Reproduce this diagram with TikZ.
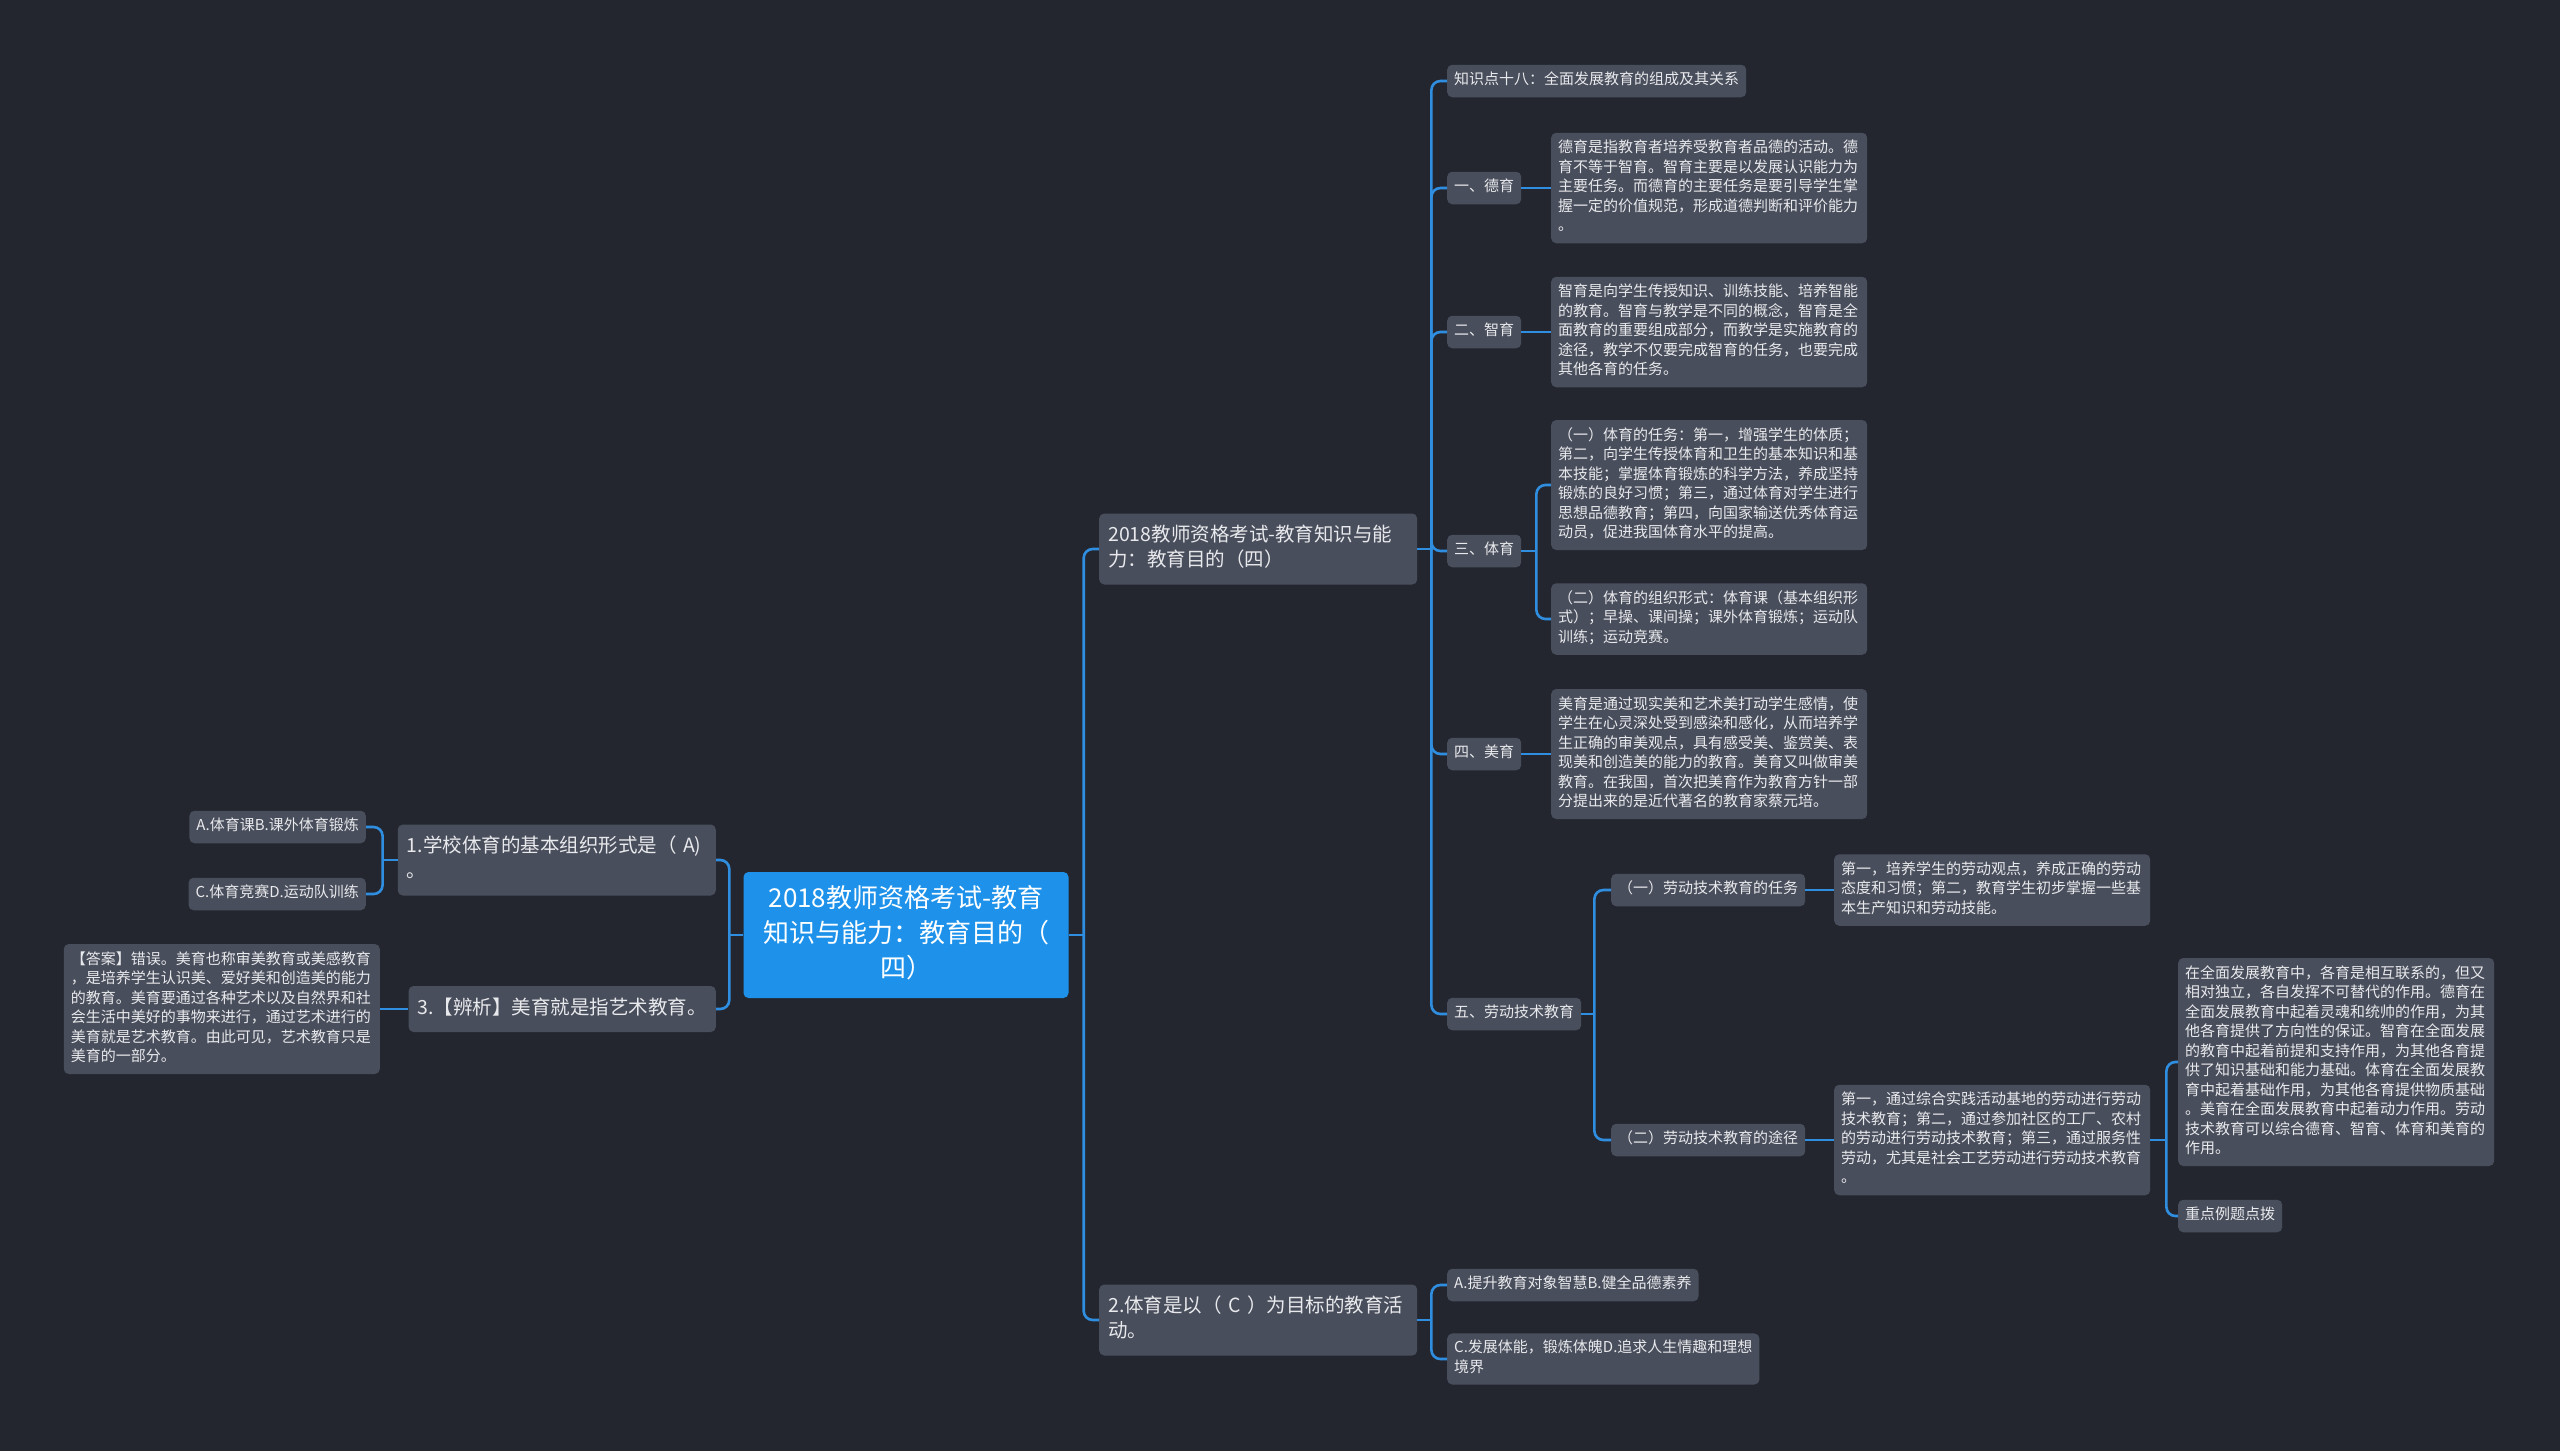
\documentclass[tikz,border=0pt]{standalone}
\usepackage{fontspec}
\newfontfamily\cjkfont{Noto Sans CJK SC}
\definecolor{bgcol}{HTML}{23262F}
\definecolor{boxcol}{HTML}{494E5C}
\definecolor{rootcol}{HTML}{1E92EA}
\definecolor{linkcol}{HTML}{2F8EE0}
\definecolor{txtcol}{HTML}{E8E9EC}

\begin{document}
\begin{tikzpicture}[x=1pt,y=-1pt,
  leaf/.style={fill=boxcol,text=txtcol,rounded corners=5pt,inner xsep=7pt,inner ysep=6.5pt,align=left,
    font=\cjkfont\fontsize{15}{19.5}\selectfont,execute at begin node=\strut,execute at end node=\strut},
  note/.style={leaf,text width=302pt},
  topic/.style={leaf,inner xsep=9pt,inner ysep=10.5pt,font=\cjkfont\fontsize{19.5}{25}\selectfont},
  hub/.style={leaf,fill=rootcol,text=white,align=center,text width=305pt,inner xsep=10pt,inner ysep=10.5pt,
    font=\cjkfont\fontsize{26}{35}\selectfont},
  link/.style={draw=linkcol,line width=2.6pt,rounded corners=9pt}]

\fill[bgcol] (0,0) rectangle (2560,1451);

\node[hub] (root) at (906,935) {2018教师资格考试-教育\\知识与能力：教育目的（\\四）};

% right side
\node[topic,text width=300pt,anchor=west] (b1) at (1099,549) {2018教师资格考试-教育知识与能\\力：教育目的（四）};
\node[topic,text width=300pt,anchor=west] (b2) at (1099,1320) {2.体育是以（ C ）为目标的教育活\\动。};

\node[leaf,anchor=west] (k) at (1447,81) {知识点十八：全面发展教育的组成及其关系};
\node[leaf,anchor=west] (de) at (1447,188) {一、德育};
\node[leaf,anchor=west] (zhi) at (1447,332) {二、智育};
\node[leaf,anchor=west] (ti) at (1447,551) {三、体育};
\node[leaf,anchor=west] (mei) at (1447,754) {四、美育};
\node[leaf,anchor=west] (lao) at (1447,1014) {五、劳动技术教育};

\node[note,anchor=west] (det) at (1551,188) {德育是指教育者培养受教育者品德的活动。德\\育不等于智育。智育主要是以发展认识能力为\\主要任务。而德育的主要任务是要引导学生掌\\握一定的价值规范，形成道德判断和评价能力\\。};
\node[note,anchor=west] (zhit) at (1551,332) {智育是向学生传授知识、训练技能、培养智能\\的教育。智育与教学是不同的概念，智育是全\\面教育的重要组成部分，而教学是实施教育的\\途径，教学不仅要完成智育的任务，也要完成\\其他各育的任务。};
\node[note,anchor=west] (tit1) at (1551,485) {（一）体育的任务：第一，增强学生的体质；\\第二，向学生传授体育和卫生的基本知识和基\\本技能；掌握体育锻炼的科学方法，养成坚持\\锻炼的良好习惯；第三，通过体育对学生进行\\思想品德教育；第四，向国家输送优秀体育运\\动员，促进我国体育水平的提高。};
\node[note,anchor=west] (tit2) at (1551,619) {（二）体育的组织形式：体育课（基本组织形\\式）；早操、课间操；课外体育锻炼；运动队\\训练；运动竞赛。};
\node[note,anchor=west] (meit) at (1551,754) {美育是通过现实美和艺术美打动学生感情，使\\学生在心灵深处受到感染和感化，从而培养学\\生正确的审美观点，具有感受美、鉴赏美、表\\现美和创造美的能力的教育。美育又叫做审美\\教育。在我国，首次把美育作为教育方针一部\\分提出来的是近代著名的教育家蔡元培。};

\node[leaf,anchor=west] (lao1) at (1611,890) {（一）劳动技术教育的任务};
\node[leaf,anchor=west] (lao2) at (1611,1140) {（二）劳动技术教育的途径};
\node[note,anchor=west] (lao1t) at (1834,890) {第一，培养学生的劳动观点，养成正确的劳动\\态度和习惯；第二，教育学生初步掌握一些基\\本生产知识和劳动技能。};
\node[note,anchor=west] (lao2t) at (1834,1140) {第一，通过综合实践活动基地的劳动进行劳动\\技术教育；第二，通过参加社区的工厂、农村\\的劳动进行劳动技术教育；第三，通过服务性\\劳动，尤其是社会工艺劳动进行劳动技术教育\\。};
\node[note,anchor=west] (sum) at (2178,1062) {在全面发展教育中，各育是相互联系的，但又\\相对独立，各自发挥不可替代的作用。德育在\\全面发展教育中起着灵魂和统帅的作用，为其\\他各育提供了方向性的保证。智育在全面发展\\的教育中起着前提和支持作用，为其他各育提\\供了知识基础和能力基础。体育在全面发展教\\育中起着基础作用，为其他各育提供物质基础\\。美育在全面发展教育中起着动力作用。劳动\\技术教育可以综合德育、智育、体育和美育的\\作用。};
\node[leaf,anchor=west] (key) at (2178,1216) {重点例题点拨};

\node[leaf,anchor=west] (oa) at (1447,1285) {A.提升教育对象智慧B.健全品德素养};
\node[leaf,anchor=west] (oc) at (1447,1359) {C.发展体能，锻炼体魄D.追求人生情趣和理想\\境界};

% left side
\node[topic,text width=300pt,anchor=east] (q1) at (716,860) {1.学校体育的基本组织形式是（ A)\\。};
\node[topic,anchor=east] (q3) at (716,1009) {3.【辨析】美育就是指艺术教育。};
\node[leaf,anchor=east] (ab) at (366,827) {A.体育课B.课外体育锻炼};
\node[leaf,anchor=east] (cd) at (366,894) {C.体育竞赛D.运动队训练};
\node[note,anchor=east] (ans) at (380,1009) {【答案】错误。美育也称审美教育或美感教育\\，是培养学生认识美、爱好美和创造美的能力\\的教育。美育要通过各种艺术以及自然界和社\\会生活中美好的事物来进行，通过艺术进行的\\美育就是艺术教育。由此可见，艺术教育只是\\美育的一部分。};

% connectors
\coordinate (rj) at ([xshift=15pt]root.east);
\coordinate (lj) at ([xshift=-14pt]root.west);
\coordinate (b1j) at ([xshift=14pt]b1.east);
\coordinate (b2j) at ([xshift=14pt]b2.east);
\coordinate (tij) at ([xshift=15pt]ti.east);
\coordinate (laoj) at ([xshift=13pt]lao.east);
\coordinate (sumj) at ([xshift=16pt]lao2t.east);
\coordinate (q1j) at ([xshift=-15pt]q1.west);

\draw[link] (root.east) -- (rj);
\draw[link] (root.west) -- (lj);
\draw[link] (b1.east) -- (b1j);
\draw[link] (b2.east) -- (b2j);
\draw[link] (ti.east) -- (tij);
\draw[link] (lao.east) -- (laoj);
\draw[link] (lao2t.east) -- (sumj);
\draw[link] (q1.west) -- (q1j);

\foreach \c in {b1,b2} \draw[link] (rj) |- (\c.west);
\foreach \c in {q1,q3} \draw[link] (lj) |- (\c.east);
\foreach \c in {k,de,zhi,ti,mei,lao} \draw[link] (b1j) |- (\c.west);
\foreach \c in {oa,oc} \draw[link] (b2j) |- (\c.west);
\foreach \c in {tit1,tit2} \draw[link] (tij) |- (\c.west);
\foreach \c in {lao1,lao2} \draw[link] (laoj) |- (\c.west);
\foreach \c in {sum,key} \draw[link] (sumj) |- (\c.west);
\foreach \c in {ab,cd} \draw[link] (q1j) |- (\c.east);

\draw[link] (de) -- (det);
\draw[link] (zhi) -- (zhit);
\draw[link] (mei) -- (meit);
\draw[link] (lao1) -- (lao1t);
\draw[link] (lao2) -- (lao2t);
\draw[link] (q3) -- (ans);
\end{tikzpicture}
\end{document}
